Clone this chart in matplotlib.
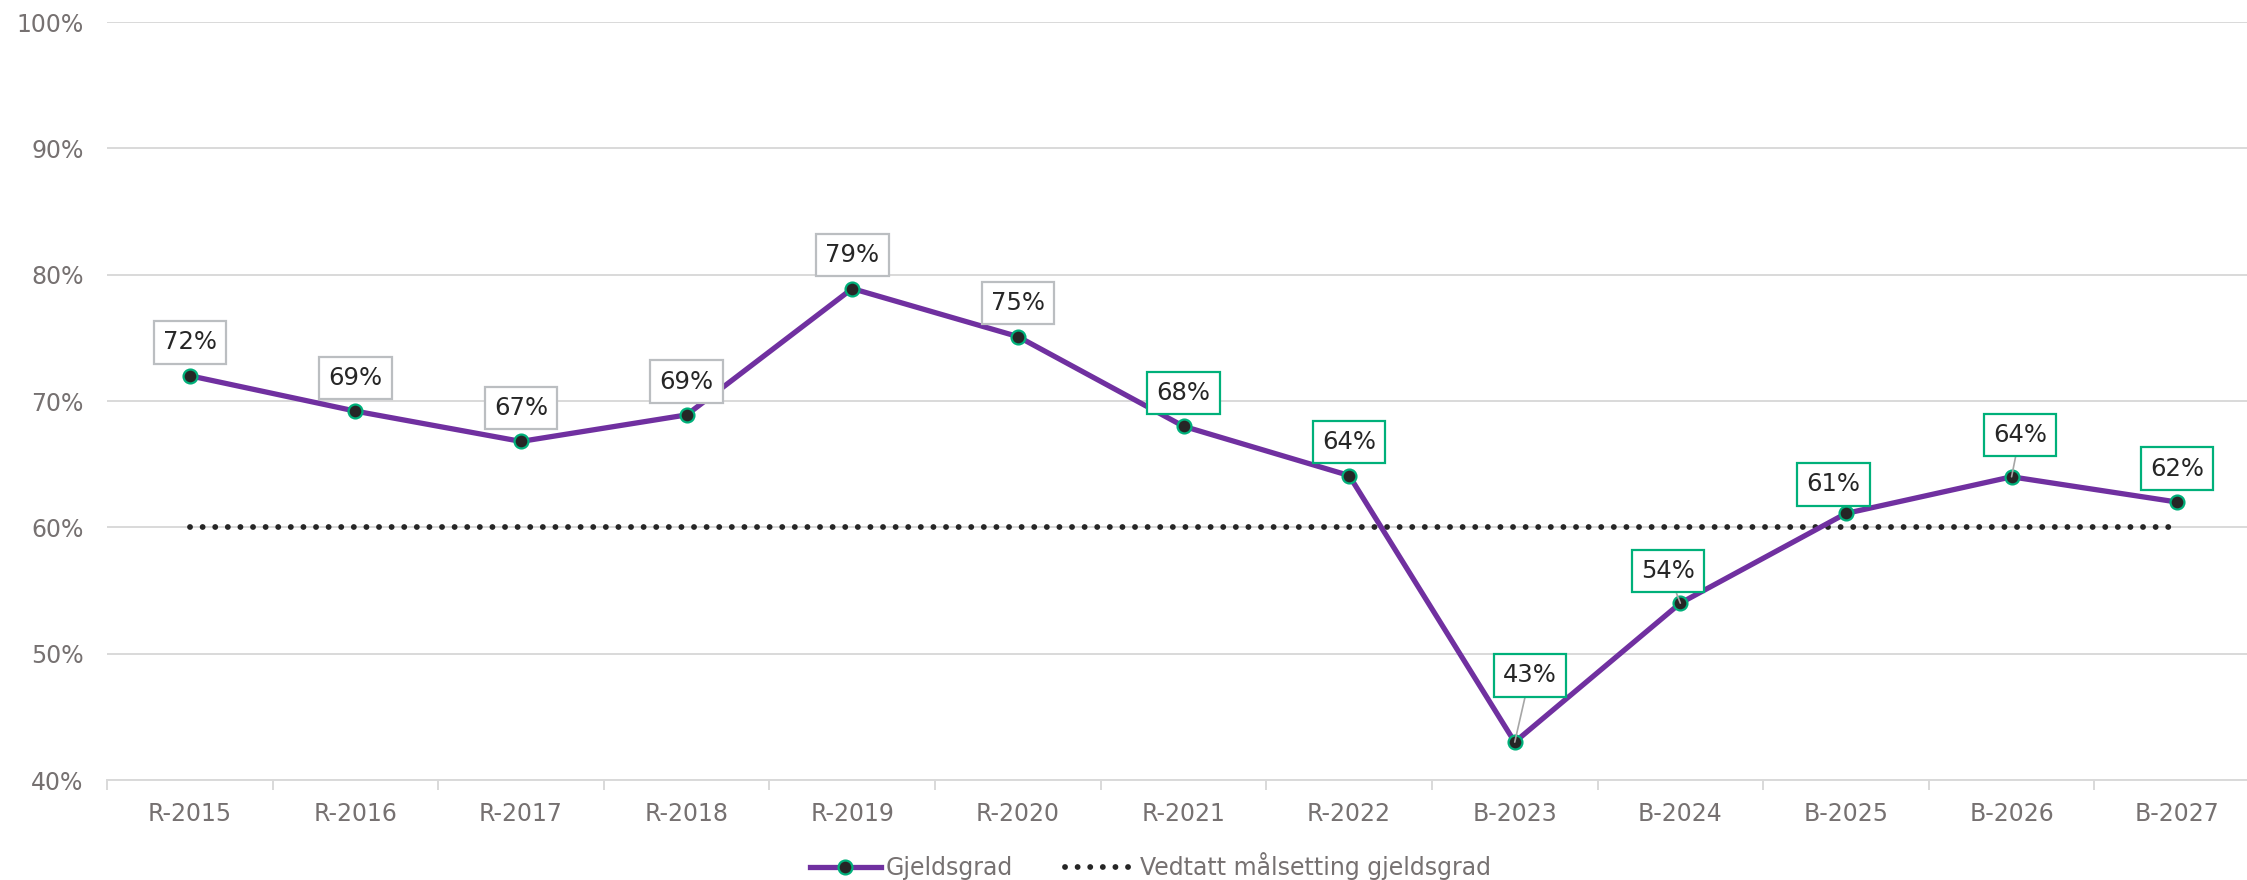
import numpy as np
import matplotlib
matplotlib.use("Agg")
import matplotlib.pyplot as plt

plt.rcParams["font.family"] = ["DejaVu Sans"]

# data
years = ["R-2015", "R-2016", "R-2017", "R-2018", "R-2019", "R-2020", "R-2021",
         "R-2022", "B-2023", "B-2024", "B-2025", "B-2026", "B-2027"]
gjeldsgrad = [72.0, 69.2, 66.8, 68.9, 78.9, 75.1, 68.0, 64.1, 43.0, 54.0, 61.1, 64.0, 62.0]
maal = [60] * len(years)

# label offsets in points (dx, dy) and which labels get a leader line
offsets = [(0, 24), (0, 24), (0, 24), (0, 24), (0, 24), (0, 24), (0, 24),
           (0, 24), (11, 48), (-9, 23), (-9, 21), (6, 30), (0, 24)]
leader = [False] * 8 + [True, True, False, True, False]

purple = "#7030A0"
green = "#00B07A"
grey_txt = "#767171"
grid_col = "#D9D9D9"

fig = plt.figure(figsize=(22.47, 8.8), dpi=100)
ax = fig.add_axes([107 / 2247, 1 - 780 / 880, (2260 - 107) / 2247, (780 - 22) / 880])

x = np.arange(len(years))

ax.plot(x, maal, color="#262626", lw=4.2, linestyle=(0, (0.01, 2.15)),
        dash_capstyle="round", label="Vedtatt målsetting gjeldsgrad", zorder=3)
ax.plot(x, gjeldsgrad, color=purple, lw=3.8, marker="o", markersize=10,
        markerfacecolor="#262626", markeredgecolor=green, markeredgewidth=1.6,
        label="Gjeldsgrad", zorder=4)

for i, v in enumerate(gjeldsgrad):
    edge = "#BBBEC1" if i < 6 else green
    arrow = dict(arrowstyle="-", color="#A6A6A6", lw=1.2, shrinkA=0, shrinkB=0) if leader[i] else None
    ax.annotate(f"{v:.0f}%", (i, v), xytext=offsets[i], textcoords="offset points",
                ha="center", va="center", fontsize=17.5, color="#262626",
                bbox=dict(boxstyle="square,pad=0.38", fc="white", ec=edge, lw=1.6),
                arrowprops=arrow, zorder=6)

ax.set_xlim(-0.5, len(years) - 0.5)
ax.set_ylim(40, 100)
ax.set_yticks(np.arange(40, 101, 10))
ax.set_yticklabels([f"{t}%" for t in range(40, 101, 10)])
ax.set_xticks(np.arange(-0.5, len(years)), minor=False)
ax.set_xticklabels([])
ax.set_xticks(x, minor=True)
ax.set_xticklabels(years, minor=True)

ax.tick_params(axis="x", which="major", length=7, width=1.4, color=grid_col)
ax.tick_params(axis="x", which="minor", length=0, pad=16, labelsize=17, labelcolor=grey_txt)
ax.tick_params(axis="y", length=0, pad=17, labelsize=17, labelcolor=grey_txt)

ax.grid(axis="y", color=grid_col, lw=1.4)
ax.set_axisbelow(True)
for s in ["top", "right", "left"]:
    ax.spines[s].set_visible(False)
ax.spines["bottom"].set_color(grid_col)
ax.spines["bottom"].set_linewidth(1.4)

h, l = ax.get_legend_handles_labels()
fig.legend(h[::-1], l[::-1], loc="center", bbox_to_anchor=(0.512, 0.016), ncol=2,
           frameon=False, fontsize=17, labelcolor=grey_txt, handlelength=3,
           handletextpad=0.2, columnspacing=2.2, numpoints=1)

fig.savefig("out.png", dpi=100)
